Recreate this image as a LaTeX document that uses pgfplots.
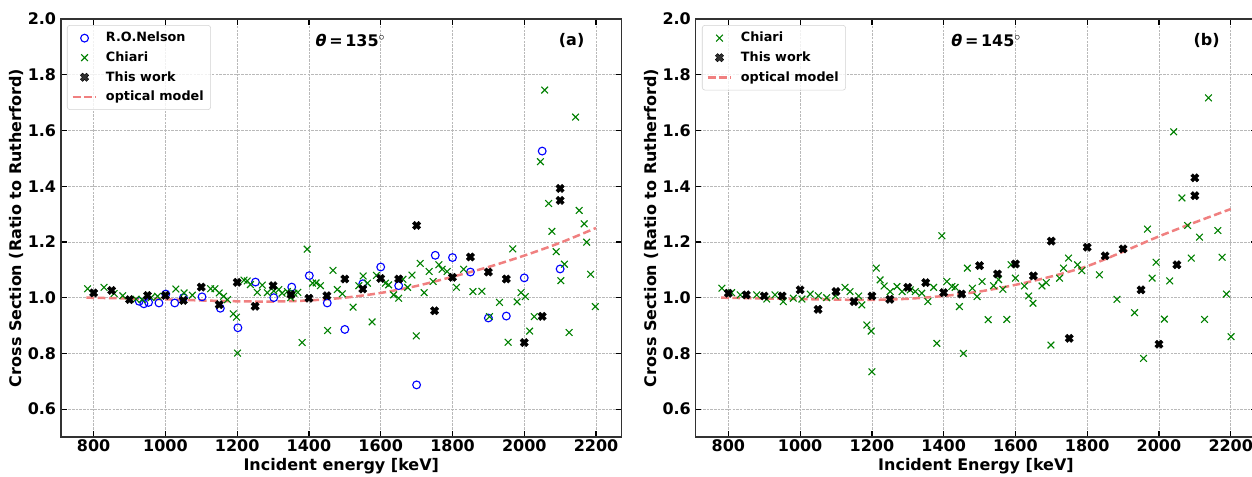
\documentclass[border=0pt]{standalone}
\usepackage{pgfplots}
\pgfplotsset{compat=1.18}
\usepackage{fontspec}
\setmainfont{DejaVu Sans}
\definecolor{mgreen}{RGB}{0,128,0}
\definecolor{lcoral}{RGB}{240,128,128}
\definecolor{spine}{RGB}{50,50,50}
\newcommand{\ff}{\fontsize{11.5}{13.5}\selectfont\bfseries}
\newcommand{\lf}{\fontsize{9.2}{11}\selectfont\bfseries}
\pgfdeclareplotmark{bigX}{%
  \pgftransformrotate{45}%
  \pgfpathmoveto{\pgfpoint{0.36\pgfplotmarksize}{\pgfplotmarksize}}%
  \pgfpathlineto{\pgfpoint{0.36\pgfplotmarksize}{0.36\pgfplotmarksize}}%
  \pgfpathlineto{\pgfpoint{\pgfplotmarksize}{0.36\pgfplotmarksize}}%
  \pgfpathlineto{\pgfpoint{\pgfplotmarksize}{-0.36\pgfplotmarksize}}%
  \pgfpathlineto{\pgfpoint{0.36\pgfplotmarksize}{-0.36\pgfplotmarksize}}%
  \pgfpathlineto{\pgfpoint{0.36\pgfplotmarksize}{-\pgfplotmarksize}}%
  \pgfpathlineto{\pgfpoint{-0.36\pgfplotmarksize}{-\pgfplotmarksize}}%
  \pgfpathlineto{\pgfpoint{-0.36\pgfplotmarksize}{-0.36\pgfplotmarksize}}%
  \pgfpathlineto{\pgfpoint{-\pgfplotmarksize}{-0.36\pgfplotmarksize}}%
  \pgfpathlineto{\pgfpoint{-\pgfplotmarksize}{0.36\pgfplotmarksize}}%
  \pgfpathlineto{\pgfpoint{-0.36\pgfplotmarksize}{0.36\pgfplotmarksize}}%
  \pgfpathlineto{\pgfpoint{-0.36\pgfplotmarksize}{\pgfplotmarksize}}%
  \pgfpathclose
  \pgfusepathqfillstroke
}
\pgfplotsset{
  myaxis/.style={
    scale only axis, width=403.56pt, height=300.96pt,
    xmin=709, xmax=2271, ymin=0.5, ymax=2.0,
    xtick={800,1000,...,2200}, ytick={0.6,0.8,...,2.0},
    grid=major,
    major grid style={gray!55, line width=0.5pt, dash pattern=on 1.85pt off 0.8pt},
    axis line style={spine, line width=0.9pt},
    major tick length=4pt,
    every tick/.style={black, line width=0.9pt},
    tick align=inside, xtick pos=both, ytick pos=both,
    tick label style={font=\ff},
    xticklabel style={yshift=1.5pt},
    /pgf/number format/assume math mode=true,
    /pgf/number format/1000 sep={},
    yticklabel style={/pgf/number format/.cd, fixed, fixed zerofill, precision=1},
    label style={font=\ff},
    xlabel style={yshift=2.5pt},
    ylabel style={yshift=-4pt},
    ylabel={Cross Section (Ratio to Rutherford)},
    legend cell align=left,
    legend style={font=\lf, draw=gray!35, rounded corners=2pt, fill=white,
      fill opacity=0.8, text opacity=1, anchor=north west,
      row sep=1.6pt, column sep=4pt, inner sep=3pt},
  },
  nelson/.style={only marks, mark=o, blue, mark size=2.8pt, line width=0.8pt},
  chiari/.style={only marks, mark=x, mgreen, mark size=3.4pt, line width=0.8pt},
  thiswork/.style={only marks, mark=bigX, black, mark size=3.1pt, line width=0.3pt},
  optical/.style={no marks, lcoral, line width=1.8pt, dash pattern=on 5.5pt off 2.6pt, smooth},
}
\begin{document}
\begin{tikzpicture}
\begin{axis}[myaxis, at={(43.92pt,28.08pt)}, anchor=south west,
  xlabel={Incident energy [keV]},
  legend style={at={(0.0107,0.9856)}}]
\addplot[nelson] coordinates {
(927,0.987) (940,0.978) (953,0.983) (982,0.981) (1001,1.013) (1026,0.981)
(1050,1.000) (1102,1.003) (1153,0.962) (1202,0.892) (1251,1.056) (1302,1.000)
(1352,1.038) (1401,1.079) (1451,0.981) (1500,0.886) (1550,1.050) (1600,1.110)
(1650,1.043) (1700,0.687) (1752,1.152) (1800,1.144) (1850,1.092) (1900,0.927)
(1950,0.934) (2000,1.071) (2050,1.526) (2100,1.103)};
\addlegendentry{R.O.Nelson}
\addplot[chiari] coordinates {
(783,1.032) (829,1.037) (857,1.015) (881,1.007) (918,0.995) (935,0.993) (960,1.000)
(978,1.005) (1029,1.031) (1052,1.017) (1075,1.009) (1126,1.032) (1138,1.032)
(1150,1.017) (1162,1.005) (1173,0.993) (1189,0.942) (1198,0.930) (1201,0.801)
(1219,1.063) (1228,1.060) (1237,1.047) (1256,1.019) (1270,1.045) (1284,1.018)
(1302,1.024) (1316,1.029) (1325,1.016) (1340,1.022) (1349,1.000) (1358,1.016)
(1369,1.019) (1381,0.839) (1395,1.174) (1410,1.052) (1420,1.053) (1432,1.043)
(1452,0.882) (1467,1.098) (1479,1.029) (1493,1.014) (1523,0.966) (1539,1.043)
(1551,1.078) (1563,1.052) (1576,0.913) (1588,1.080) (1613,1.052) (1622,1.046)
(1636,1.010) (1650,0.998) (1662,1.066) (1675,1.037) (1687,1.081) (1699,0.863)
(1710,1.123) (1721,1.018) (1735,1.094) (1746,1.058) (1762,1.118) (1771,1.102)
(1785,1.094) (1811,1.037) (1831,1.102) (1857,1.022) (1882,1.023) (1903,0.932)
(1931,0.983) (1955,0.840) (1968,1.175) (1980,0.985) (1991,1.018) (2003,1.004)
(2015,0.880) (2028,0.932) (2045,1.488) (2057,1.745) (2068,1.338) (2077,1.238)
(2089,1.165) (2102,1.061) (2112,1.120) (2125,0.875) (2143,1.648) (2153,1.313)
(2167,1.265) (2174,1.199) (2185,1.084) (2198,0.968)};
\addlegendentry{Chiari}
\addplot[thiswork] coordinates {
(800,1.017) (850,1.026) (900,0.993) (950,1.008) (1000,1.008) (1050,0.990)
(1100,1.038) (1150,0.975) (1200,1.055) (1250,0.969) (1300,1.043) (1350,1.011)
(1400,0.998) (1450,1.007) (1500,1.067) (1550,1.031) (1600,1.069) (1650,1.067)
(1700,1.259) (1750,0.953) (1800,1.073) (1850,1.146) (1900,1.092) (1950,1.067)
(2000,0.839) (2050,0.933) (2100,1.392) (2100,1.349)};
\addlegendentry{This work}
\addplot[optical] coordinates {
(780,1.000) (900,0.997) (1000,0.994) (1100,0.990) (1200,0.987) (1300,0.986)
(1400,0.990) (1500,1.000) (1600,1.017) (1700,1.042) (1800,1.075) (1900,1.110)
(2000,1.151) (2100,1.197) (2200,1.250)};
\addlegendentry{optical model}
\node[anchor=west, font=\ff] at (axis cs:1405,1.922) {{\itshape θ}\,=\,135$^{\circ}$};
\node[font=\ff] at (axis cs:2132,1.922) {(a)};
\end{axis}

\begin{axis}[myaxis, at={(500.9pt,28.08pt)}, anchor=south west,
  xlabel={Incident Energy [keV]},
  legend style={at={(0.0112,0.9856)}}]
\addplot[chiari] coordinates {
(782,1.034) (809,1.018) (833,1.010) (879,1.010) (907,0.995) (930,1.010) (953,0.986)
(981,0.998) (1005,0.995) (1028,1.013) (1051,1.007) (1074,1.000) (1098,1.006)
(1125,1.037) (1139,1.022) (1163,1.006) (1172,0.974) (1186,0.902) (1198,0.880)
(1200,0.734) (1212,1.106) (1223,1.064) (1234,1.042) (1251,1.022) (1270,1.040)
(1284,1.022) (1307,1.028) (1321,1.022) (1339,1.016) (1356,0.986) (1372,1.037)
(1381,0.836) (1395,1.222) (1409,1.058) (1423,1.040) (1432,1.037) (1444,0.968)
(1455,0.800) (1466,1.106) (1480,1.034) (1493,1.004) (1507,1.058) (1524,0.921)
(1539,1.043) (1553,1.065) (1565,1.030) (1576,0.922) (1588,1.118) (1600,1.070)
(1625,1.042) (1637,1.006) (1649,0.980) (1674,1.042) (1686,1.054) (1699,0.830)
(1723,1.070) (1734,1.106) (1748,1.142) (1773,1.118) (1785,1.097) (1834,1.082)
(1883,0.994) (1932,0.946) (1957,0.782) (1968,1.246) (1981,1.070) (1992,1.127)
(2015,0.923) (2030,1.060) (2041,1.595) (2064,1.358) (2080,1.259) (2090,1.142)
(2113,1.217) (2127,0.922) (2138,1.717) (2164,1.241) (2176,1.145) (2188,1.013)
(2201,0.860)};
\addlegendentry{Chiari}
\addplot[thiswork] coordinates {
(800,1.016) (850,1.010) (900,1.006) (950,1.006) (1000,1.028) (1050,0.958)
(1100,1.022) (1150,0.986) (1200,1.006) (1250,0.994) (1300,1.037) (1350,1.054)
(1400,1.018) (1450,1.013) (1500,1.115) (1550,1.085) (1600,1.121) (1650,1.078)
(1700,1.203) (1750,0.854) (1800,1.181) (1850,1.150) (1900,1.175) (1950,1.028)
(2000,0.833) (2050,1.118) (2100,1.430) (2100,1.366)};
\addlegendentry{This work}
\addplot[optical] coordinates {
(780,1.000) (900,0.997) (1000,0.995) (1100,0.993) (1200,0.992) (1300,0.996)
(1400,1.006) (1500,1.022) (1600,1.046) (1700,1.076) (1800,1.113) (1900,1.165)
(2000,1.220) (2100,1.270) (2200,1.318)};
\addlegendentry{optical model}
\node[anchor=west, font=\ff] at (axis cs:1408,1.922) {{\itshape θ}\,=\,145$^{\circ}$};
\node[font=\ff] at (axis cs:2133,1.922) {(b)};
\end{axis}
\pgfresetboundingbox
\path[use as bounding box] (0,0) rectangle (901.44pt,342.72pt);
\end{tikzpicture}
\end{document}
